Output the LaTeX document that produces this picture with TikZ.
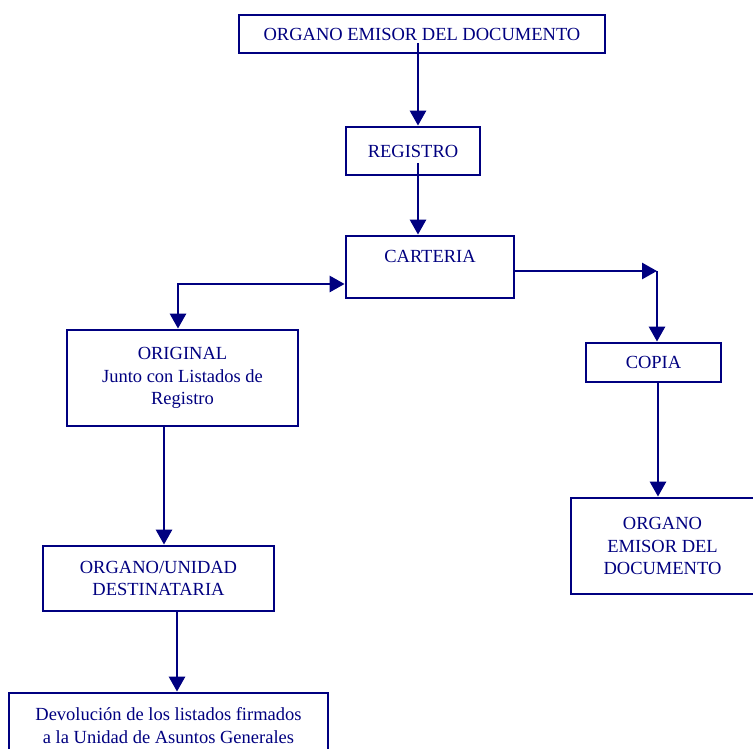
\documentclass[tikz,border=0pt]{standalone}
\usepackage{fontspec}
\setmainfont{Liberation Serif}
\usepackage{xcolor}
\usetikzlibrary{arrows.meta, positioning, calc}
\definecolor{navy}{RGB}{0,0,128}
\tikzset{
    box/.style={
        rectangle,
        draw=navy,
        line width=2.8pt,
        fill=white,
        text=navy,
        align=center,
        inner sep=2pt,
        font=\fontsize{18.5}{22.5}\selectfont
    },
    wire/.style={
        draw=navy,
        line width=2.8pt,
        -{Triangle[length=15pt,width=16pt]}
    },
    dwire/.style={
        draw=navy,
        line width=2.8pt,
        {Triangle[length=15pt,width=16pt]}-{Triangle[length=15pt,width=16pt]}
    }
}
\begin{document}
\begin{tikzpicture}[x=1pt, y=-1pt]

\useasboundingbox (0,0) rectangle (753,749);

\node[box, minimum width=366pt, minimum height=38pt] (org) at (422,34) {ORGANO EMISOR DEL DOCUMENTO};
\node[box, minimum width=134pt, minimum height=48pt] (reg) at (413,151) {REGISTRO};
\node[box, minimum width=168pt, minimum height=62pt, text depth=22pt] (cart) at (430,267) {CARTERIA};
\node[box, minimum width=231pt, minimum height=96pt] (orig) at (182.5,378) {ORIGINAL\\ Junto con Listados de\\ Registro};
\node[box, minimum width=231pt, minimum height=65pt] (dest) at (158.5,578.5) {ORGANO/UNIDAD\\ DESTINATARIA};
\node[box, minimum width=319pt, minimum height=65pt] (dev) at (168.5,725.5) {Devoluci\'on de los listados firmados\\ a la Unidad de Asuntos Generales};
\node[box, minimum width=135pt, minimum height=39pt] (copia) at (653.5,362.5) {COPIA};
\node[box, minimum width=183pt, minimum height=96pt] (emis) at (662.5,546) {ORGANO\\ EMISOR DEL\\ DOCUMENTO};

\coordinate (turn) at (657,271);

\draw[wire] ([xshift=-4pt,yshift=-9pt]org.center) -- ([xshift=5pt]reg.north);
\draw[wire] ([xshift=5pt,yshift=-12pt]reg.center) -- ([xshift=-12pt]cart.north);
\draw[dwire] ([xshift=-4.5pt]orig.north) |- ([yshift=-17pt]cart.west);
\draw[wire] ([yshift=-4pt]cart.east) -- (turn);
\draw[wire] (turn) -- (turn |- copia.north);
\draw[wire] ([xshift=-18.5pt]orig.south) -- ([xshift=5.5pt]dest.north);
\draw[wire] ([xshift=18.5pt]dest.south) -- ([xshift=8.5pt]dev.north);
\draw[wire] ([xshift=4.5pt]copia.south) -- ([xshift=-4.5pt]emis.north);

\end{tikzpicture}
\end{document}
